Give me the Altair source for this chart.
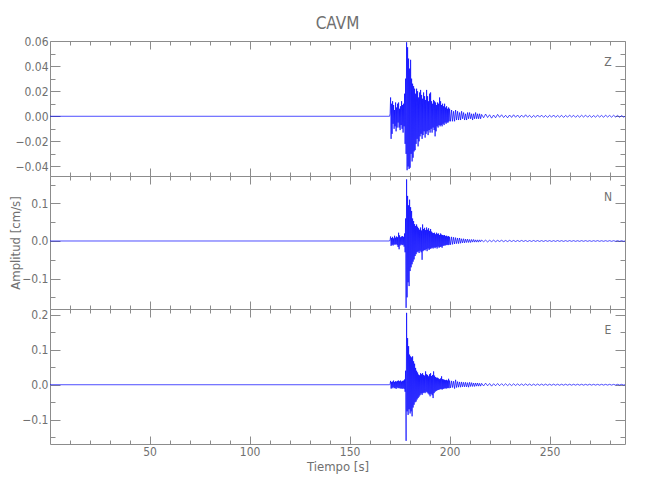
import altair as alt
import pandas as pd

TITLE = "CAVM"
X_TITLE = "Tiempo [s]"
Y_TITLE = "Amplitud [cm/s]"

X_DOMAIN = [0.2, 287.7]
X_MAJOR = [50, 100, 150, 200, 250]
X_MINOR = [10, 20, 30, 40, 60, 70, 80, 90, 110, 120, 130, 140, 160, 170, 180, 190,
           210, 220, 230, 240, 260, 270, 280]

QUIET_START = 0.2
DENSE_START, DENSE_STEP = 170.0, 0.25
MID_START, MID_STEP = 200.5, 0.5
TAIL_START, TAIL_STEP = 216.0, 1.0
TRACE_END = 287.7

Z_DENSE = [0.000, 0.002, 0.015, -0.018, 0.010, -0.014, 0.012, -0.006, 0.009, -0.010,
           0.005, -0.008, 0.011, -0.012, 0.007, -0.009, 0.010, -0.005, 0.011, -0.009,
           0.006, -0.011, 0.008, -0.007, 0.012, -0.010, 0.009, -0.013, 0.010, -0.008,
           0.018, -0.022, 0.030, -0.030, 0.059, -0.043, 0.055, -0.040, 0.046, -0.042,
           0.038, -0.041, 0.045, -0.030, 0.030, -0.036, 0.026, -0.033, 0.024, -0.028,
           0.022, -0.027, 0.018, -0.022, 0.022, -0.018, 0.020, -0.024, 0.015, -0.020,
           0.019, -0.016, 0.021, -0.014, 0.017, -0.018, 0.014, -0.015, 0.019, -0.012,
           0.016, -0.017, 0.013, -0.014, 0.021, -0.012, 0.016, -0.015, 0.012, -0.011,
           0.018, -0.013, 0.019, -0.010, 0.012, -0.013, 0.010, -0.009, 0.013, -0.011,
           0.012, -0.016, 0.011, -0.012, 0.009, -0.008, 0.011, -0.009, 0.010, -0.007,
           0.015, -0.008, 0.012, -0.007, 0.009, -0.008, 0.010, -0.006, 0.008, -0.007,
           0.010, -0.005, 0.007, -0.006, 0.008, -0.005, 0.006, -0.005, 0.007, -0.004,
           0.006]
Z_MID = [-0.004, 0.005, -0.004, 0.004, -0.004, 0.005, -0.003, 0.004, -0.003, 0.003,
         -0.003, 0.004, -0.002, 0.003, -0.003, 0.002, -0.003, 0.003, -0.002, 0.003,
         -0.002, 0.002, -0.003, 0.002, -0.002, 0.003, -0.002, 0.002, -0.002, 0.002,
         -0.002]
Z_TAIL = [0.0015, -0.0012, 0.0018, -0.001, 0.0012, -0.0015, 0.001, -0.0012, 0.0015, -0.0008,
          0.0012, -0.001, 0.0008, -0.0012, 0.001, -0.0009, 0.0012, -0.0008, 0.001, -0.001,
          0.0009, -0.0008, 0.0012, -0.0007, 0.0008, -0.001, 0.0007, -0.0008, 0.001, -0.0007,
          0.0009, -0.0008, 0.0007, -0.0009, 0.0008, -0.0007, 0.001, -0.0008, 0.0007, -0.0007,
          0.0008, -0.0009, 0.0007, -0.0007, 0.0009, -0.0006, 0.0008, -0.0008, 0.0007, -0.0007,
          0.0008, -0.0006, 0.0009, -0.0007, 0.0007, -0.0008, 0.0006, -0.0007, 0.0008, -0.0006,
          0.0007, -0.0008, 0.0009, -0.0006, 0.0007, -0.0007, 0.0008, -0.0006, 0.0007, -0.0008,
          0.0006, -0.0007]

N_DENSE = [0.000, 0.003, 0.012, -0.013, 0.008, -0.010, 0.011, -0.012, 0.007, -0.009,
           0.014, -0.010, 0.009, -0.008, 0.012, -0.011, 0.010, -0.016, 0.022, -0.022,
           0.015, -0.012, 0.010, -0.009, 0.012, -0.011, 0.013, -0.010, 0.011, -0.015,
           0.020, -0.030, 0.060, -0.178, 0.164, -0.150, 0.120, -0.110, 0.095, -0.120,
           0.110, -0.080, 0.090, -0.070, 0.080, -0.062, 0.060, -0.055, 0.053, -0.049,
           0.045, -0.040, 0.040, -0.035, 0.044, -0.030, 0.038, -0.028, 0.034, -0.032,
           0.030, -0.026, 0.036, -0.030, 0.028, -0.050, 0.044, -0.027, 0.032, -0.024,
           0.035, -0.025, 0.029, -0.022, 0.036, -0.027, 0.030, -0.020, 0.034, -0.024,
           0.027, -0.021, 0.032, -0.020, 0.025, -0.018, 0.022, -0.020, 0.021, -0.017,
           0.022, -0.019, 0.018, -0.016, 0.022, -0.020, 0.019, -0.015, 0.020, -0.018,
           0.016, -0.016, 0.020, -0.015, 0.017, -0.018, 0.016, -0.013, 0.015, -0.012,
           0.016, -0.012, 0.013, -0.011, 0.014, -0.010, 0.012, -0.011, 0.013, -0.010,
           0.011]
N_MID = [-0.010, 0.011, -0.009, 0.010, -0.008, 0.009, -0.007, 0.008, -0.007, 0.008,
         -0.006, 0.006, -0.005, 0.006, -0.005, 0.005, -0.004, 0.005, -0.004, 0.004,
         -0.004, 0.004, -0.003, 0.004, -0.003, 0.003, -0.003, 0.003, -0.003, 0.003,
         -0.002]
N_TAIL = [0.0025, -0.002, 0.0022, -0.0025, 0.002, -0.0018, 0.0022, -0.002, 0.0018, -0.0015,
          0.002, -0.0018, 0.0015, -0.0016, 0.0018, -0.0014, 0.0015, -0.0015, 0.0014, -0.0013,
          0.0015, -0.0012, 0.0013, -0.0014, 0.0012, -0.0012, 0.0014, -0.0011, 0.0012, -0.0012,
          0.0011, -0.0012, 0.0012, -0.001, 0.0011, -0.0011, 0.001, -0.0011, 0.0012, -0.001,
          0.001, -0.0011, 0.001, -0.001, 0.0011, -0.0009, 0.001, -0.001, 0.0009, -0.001,
          0.001, -0.0009, 0.001, -0.0009, 0.0009, -0.001, 0.0009, -0.0008, 0.001, -0.0009,
          0.0008, -0.0009, 0.0009, -0.0008, 0.0009, -0.0009, 0.0008, -0.0008, 0.0009, -0.0008,
          0.0008, -0.0008]

E_DENSE = [0.000, 0.002, 0.011, -0.011, 0.008, -0.010, 0.009, -0.007, 0.012, -0.010,
           0.008, -0.009, 0.010, -0.012, 0.009, -0.008, 0.011, -0.010, 0.012, -0.009,
           0.010, -0.011, 0.012, -0.010, 0.009, -0.012, 0.011, -0.010, 0.012, -0.012,
           0.015, -0.020, 0.040, -0.160, 0.205, -0.076, 0.133, -0.086, 0.110, -0.070,
           0.086, -0.082, 0.081, -0.076, 0.078, -0.090, 0.081, -0.065, 0.067, -0.057,
           0.060, -0.050, 0.048, -0.048, 0.040, -0.042, 0.035, -0.038, 0.029, -0.034,
           0.027, -0.030, 0.033, -0.025, 0.030, -0.029, 0.033, -0.024, 0.028, -0.022,
           0.026, -0.024, 0.038, -0.020, 0.030, -0.022, 0.028, -0.025, 0.024, -0.028,
           0.030, -0.033, 0.033, -0.026, 0.025, -0.030, 0.028, -0.038, 0.038, -0.024,
           0.026, -0.020, 0.022, -0.018, 0.020, -0.016, 0.020, -0.015, 0.018, -0.014,
           0.016, -0.013, 0.018, -0.012, 0.024, -0.014, 0.016, -0.012, 0.015, -0.011,
           0.014, -0.010, 0.013, -0.011, 0.014, -0.010, 0.012, -0.009, 0.017, -0.010,
           0.012]
E_MID = [-0.009, 0.011, -0.008, 0.010, -0.011, 0.014, -0.008, 0.009, -0.007, 0.008,
         -0.007, 0.008, -0.006, 0.007, -0.006, 0.007, -0.006, 0.006, -0.007, 0.007,
         -0.005, 0.006, -0.005, 0.005, -0.005, 0.005, -0.004, 0.005, -0.004, 0.004,
         -0.004]
E_TAIL = [0.004, -0.0035, 0.0045, -0.003, 0.0035, -0.004, 0.003, -0.003, 0.0035, -0.0028,
          0.003, -0.0025, 0.0028, -0.0026, 0.0024, -0.0025, 0.0026, -0.0022, 0.0024, -0.002,
          0.0022, -0.002, 0.0024, -0.0018, 0.002, -0.002, 0.0018, -0.0019, 0.002, -0.0017,
          0.0018, -0.0016, 0.0018, -0.0017, 0.0016, -0.0015, 0.0017, -0.0015, 0.0016, -0.0015,
          0.0015, -0.0014, 0.0016, -0.0014, 0.0015, -0.0014, 0.0014, -0.0013, 0.0015, -0.0013,
          0.0014, -0.0013, 0.0013, -0.0012, 0.0014, -0.0012, 0.0013, -0.0012, 0.0012, -0.0012,
          0.0013, -0.0011, 0.0012, -0.0011, 0.0012, -0.0011, 0.0011, -0.001, 0.0012, -0.001,
          0.0011, -0.001]

DENSE = {"Z": Z_DENSE, "N": N_DENSE, "E": E_DENSE}
MID = {"Z": Z_MID, "N": N_MID, "E": E_MID}
TAIL = {"Z": Z_TAIL, "N": N_TAIL, "E": E_TAIL}

Y_DOMAINS = {"Z": [-0.0476, 0.0600], "N": [-0.181, 0.173], "E": [-0.169, 0.216]}
Y_MAJOR = {"Z": [-0.04, -0.02, 0, 0.02, 0.04, 0.06], "N": [-0.1, 0, 0.1],
           "E": [-0.1, 0, 0.1, 0.2]}
Y_MINOR = {"Z": [-0.03, -0.01, 0.01, 0.03, 0.05], "N": [-0.15, -0.05, 0.05, 0.15],
           "E": [-0.15, -0.05, 0.05, 0.15]}
Y_FORMAT = {"Z": ".2f", "N": ".1f", "E": ".1f"}
HEIGHTS = {"Z": 135, "N": 133, "E": 135}
WIDTH = 575

FONT = "DejaVu Sans Condensed, Liberation Sans, sans-serif"
TEXT = "#707070"
FRAME = "#8c8c8c"
TRACE = "#0000ff"


def build(dense, mid, tail):
    t = [QUIET_START]
    v = [0.0]
    for start, step, vals in ((DENSE_START, DENSE_STEP, dense),
                              (MID_START, MID_STEP, mid),
                              (TAIL_START, TAIL_STEP, tail)):
        for i, a in enumerate(vals):
            t.append(start + step * i)
            v.append(a)
    t.append(TRACE_END)
    v.append(0.0)
    return pd.DataFrame({"t": t, "v": v})


def tick_axis(orient, values, size, **kw):
    return alt.Axis(orient=orient, values=values, tickSize=size, offset=-size,
                    domain=False, grid=False, tickColor=FRAME, tickWidth=1, **kw)


def panel(ch, bottom, ytitle):
    df = build(DENSE[ch], MID[ch], TAIL[ch])
    base = alt.Chart(df)
    xs = alt.Scale(domain=X_DOMAIN, nice=False, zero=False)
    ys = alt.Scale(domain=Y_DOMAINS[ch], nice=False, zero=False)

    if bottom:
        xax = tick_axis("bottom", X_MAJOR, 8, labels=True, labelPadding=2,
                        labelFontSize=12, title=X_TITLE, titleFontSize=13,
                        titlePadding=3, labelFlush=False)
    else:
        xax = tick_axis("bottom", X_MAJOR, 8, labels=False, title=None)

    ykw = dict(labels=True, format=Y_FORMAT[ch], labelPadding=2, labelFontSize=12,
               labelFlush=False)
    if ytitle:
        yax = tick_axis("left", Y_MAJOR[ch], 10, title=Y_TITLE, titleFontSize=13,
                        titlePadding=8, minExtent=30, maxExtent=30, **ykw)
    else:
        yax = tick_axis("left", Y_MAJOR[ch], 10, title=None, **ykw)

    line = base.mark_line(color=TRACE, strokeWidth=0.7, clip=True).encode(
        x=alt.X("t:Q", scale=xs, axis=xax),
        y=alt.Y("v:Q", scale=ys, axis=yax),
    )
    minor_bl = base.mark_line(opacity=0).encode(
        x=alt.X("t:Q", scale=xs, axis=tick_axis("bottom", X_MINOR, 4, labels=False, title=None)),
        y=alt.Y("v:Q", scale=ys, axis=tick_axis("left", Y_MINOR[ch], 5, labels=False, title=None)),
    )
    major_tr = base.mark_line(opacity=0).encode(
        x=alt.X("t:Q", scale=xs, axis=tick_axis("top", X_MAJOR, 8, labels=False, title=None)),
        y=alt.Y("v:Q", scale=ys, axis=tick_axis("right", Y_MAJOR[ch], 10, labels=False, title=None)),
    )
    minor_tr = base.mark_line(opacity=0).encode(
        x=alt.X("t:Q", scale=xs, axis=tick_axis("top", X_MINOR, 4, labels=False, title=None)),
        y=alt.Y("v:Q", scale=ys, axis=tick_axis("right", Y_MINOR[ch], 5, labels=False, title=None)),
    )
    label = alt.Chart(alt.Data(values=[{"c": ch}])).mark_text(
        font=FONT, fontSize=12, color=TEXT, align="center", baseline="middle"
    ).encode(text="c:N", x=alt.value(WIDTH - 17), y=alt.value(21))

    return alt.layer(line, minor_bl, major_tr, minor_tr, label).resolve_axis(
        x="independent", y="independent"
    ).properties(width=WIDTH, height=HEIGHTS[ch])


panels = [panel("Z", False, False), panel("N", False, True), panel("E", True, False)]

chart = alt.vconcat(*panels, spacing=0, bounds="flush").properties(
    title=alt.Title(TITLE, font=FONT, fontSize=17, fontWeight="normal", color=TEXT,
                    anchor="middle", frame="group", offset=2),
    padding={"left": 0, "top": 6, "right": 5, "bottom": 5},
).configure_view(stroke=FRAME, strokeWidth=1).configure_axis(
    labelFont=FONT, labelColor=TEXT, titleFont=FONT, titleColor=TEXT,
    titleFontWeight="normal"
)

chart.save("out.html", embed_options={"renderer": "svg", "actions": False})
